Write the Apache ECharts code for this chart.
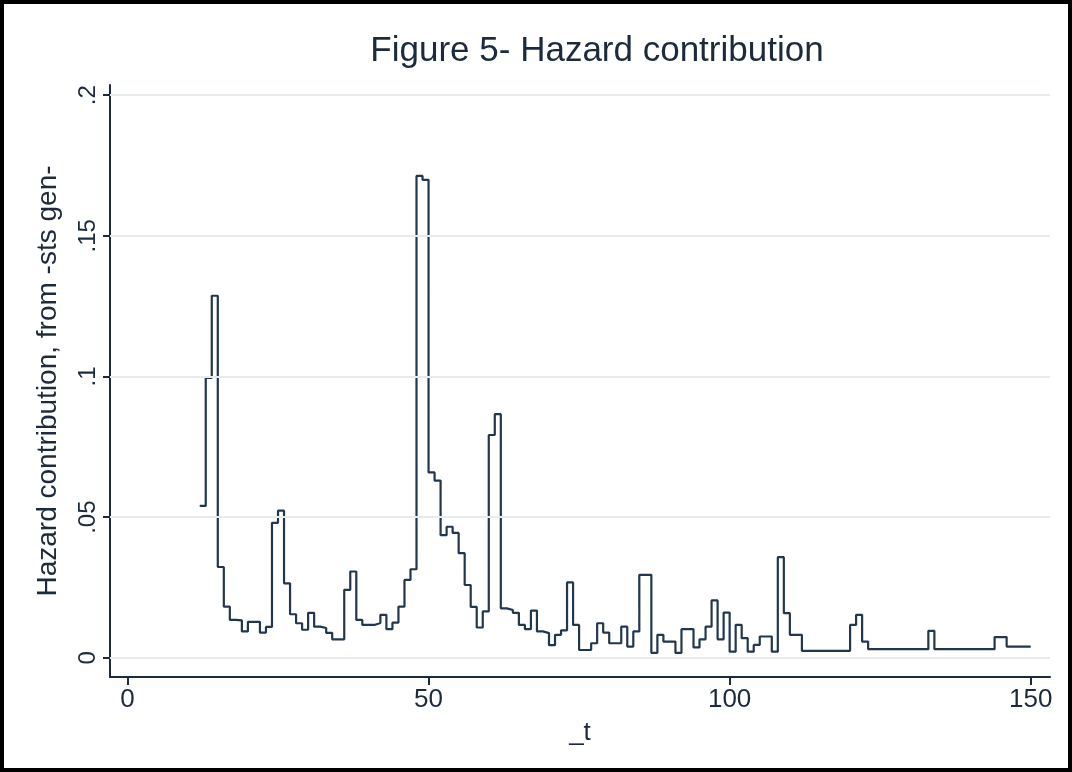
<!DOCTYPE html>
<html>
<head>
<meta charset="utf-8">
<script src="https://cdn.jsdelivr.net/npm/echarts@6/dist/echarts.min.js"></script>
<style>
  html, body { margin: 0; padding: 0; background: #fff; }
  #wrap { position: relative; width: 1072px; height: 772px; }
  #chart { position: absolute; left: 0; top: 0; width: 1072px; height: 772px; }
  #frame { position: absolute; left: 0; top: 0; width: 1072px; height: 772px; box-sizing: border-box;
           border: 4px solid #000; pointer-events: none; }
</style>
</head>
<body>
<div id="wrap"><div id="chart"></div><div id="frame"></div></div>
<script>
// ---- data ----
const timeValues = [12,13,14,15,16,17,18,19,20,21,22,23,24,25,26,27,28,29,30,31,32,33,34,35,36,37,38,39,40,41,
  42,43,44,45,46,47,48,49,50,51,52,53,54,55,56,57,58,59,60,61,62,63,64,65,66,67,68,69,70,71,
  72,73,74,75,76,77,78,79,80,81,82,83,84,85,86,87,88,89,90,91,92,93,94,95,96,97,98,99,100,101,
  102,103,104,105,106,107,108,109,110,111,112,120,121,122,123,133,134,144,146,150];
const hazardValues = [0.054,0.0995,0.1287,0.0323,0.0182,0.0135,0.0133,0.0094,0.0128,0.0128,0.0090,0.0110,0.0480,0.0523,0.0265,0.0155,0.0123,0.0100,0.0160,0.0111,0.0106,0.0089,0.0066,0.0066,0.0242,0.0307,0.0135,0.0117,0.0117,0.0124,
  0.0153,0.0102,0.0125,0.0182,0.0277,0.0315,0.1713,0.1699,0.0659,0.0630,0.0436,0.0466,0.0444,0.0372,0.0259,0.0181,0.0108,0.0165,0.0792,0.0866,0.0176,0.0170,0.0160,0.0117,0.0102,0.0168,0.0094,0.0088,0.0045,0.0082,
  0.0098,0.0268,0.0117,0.0028,0.0028,0.0052,0.0123,0.0090,0.0052,0.0052,0.0111,0.0040,0.0094,0.0295,0.0295,0.0018,0.0082,0.0058,0.0058,0.0018,0.0102,0.0102,0.0037,0.0066,0.0111,0.0204,0.0066,0.0161,0.0022,0.0117,
  0.0070,0.0022,0.0046,0.0076,0.0076,0.0022,0.0358,0.0159,0.0082,0.0082,0.0025,0.0117,0.0153,0.0058,0.0031,0.0096,0.0031,0.0074,0.0040,0.0040];
const xTicks = [0, 50, 100, 150];
const yTicks = [0, 0.05, 0.1, 0.15, 0.2];
const yTickLabels = ['0', '.05', '.1', '.15', '.2'];
const titleText = 'Figure 5- Hazard contribution';
const xName = '_t';
const yName = 'Hazard contribution, from -sts gen-';

const seriesData = timeValues.map((t, i) => [t, hazardValues[i]]);
const FONT = '"Liberation Sans", Arial, sans-serif';

const chart = echarts.init(document.getElementById('chart'), null, { renderer: 'canvas' });
chart.setOption({
  backgroundColor: '#ffffff',
  animation: false,
  title: {
    text: titleText,
    left: 592, top: 29, textAlign: 'center',
    textStyle: { fontFamily: FONT, fontSize: 35, fontWeight: 'normal', color: '#1c2a3c' }
  },
  grid: { left: 110, right: 22, top: 85, bottom: 95, containLabel: false },
  xAxis: {
    type: 'value', min: -2.9, max: 153.2,
    name: xName, nameLocation: 'middle', nameGap: 43,
    nameTextStyle: { fontFamily: FONT, fontSize: 26, color: '#1c2a3c' },
    axisLine: { show: true, onZero: false, lineStyle: { color: '#1c2a3c', width: 2 } },
    axisTick: { show: true, customValues: xTicks, length: 8, inside: false, lineStyle: { color: '#1c2a3c', width: 2 } },
    axisLabel: { customValues: xTicks, margin: 10, fontFamily: FONT, fontSize: 26, color: '#1c2a3c' },
    splitLine: { show: false }
  },
  yAxis: {
    type: 'value', min: -0.0068, max: 0.2036,
    name: yName, nameLocation: 'middle', nameGap: 48, nameRotate: 90,
    nameTextStyle: { fontFamily: FONT, fontSize: 28, color: '#1c2a3c' },
    axisLine: { show: true, onZero: false, lineStyle: { color: '#1c2a3c', width: 2 } },
    axisTick: { show: true, customValues: yTicks, length: 7, lineStyle: { color: '#1c2a3c', width: 2 } },
    axisLabel: {
      customValues: yTicks, rotate: 90, margin: 10, fontFamily: FONT, fontSize: 24, color: '#1c2a3c',
      formatter: v => { const i = yTicks.findIndex(t => Math.abs(t - v) < 1e-9); return i >= 0 ? yTickLabels[i] : ''; }
    },
    splitLine: { show: false }
  },
  series: [{
    type: 'line', step: 'end', data: seriesData, showSymbol: false, symbol: 'none',
    lineStyle: { color: '#22374e', width: 2.2 },
    markLine: {
      silent: true, symbol: 'none', label: { show: false }, animation: false,
      lineStyle: { color: '#e6ecee', width: 2, type: 'solid' },
      data: yTicks.map(v => ({ yAxis: v }))
    },
    z: 3
  }]
});
</script>
</body>
</html>
